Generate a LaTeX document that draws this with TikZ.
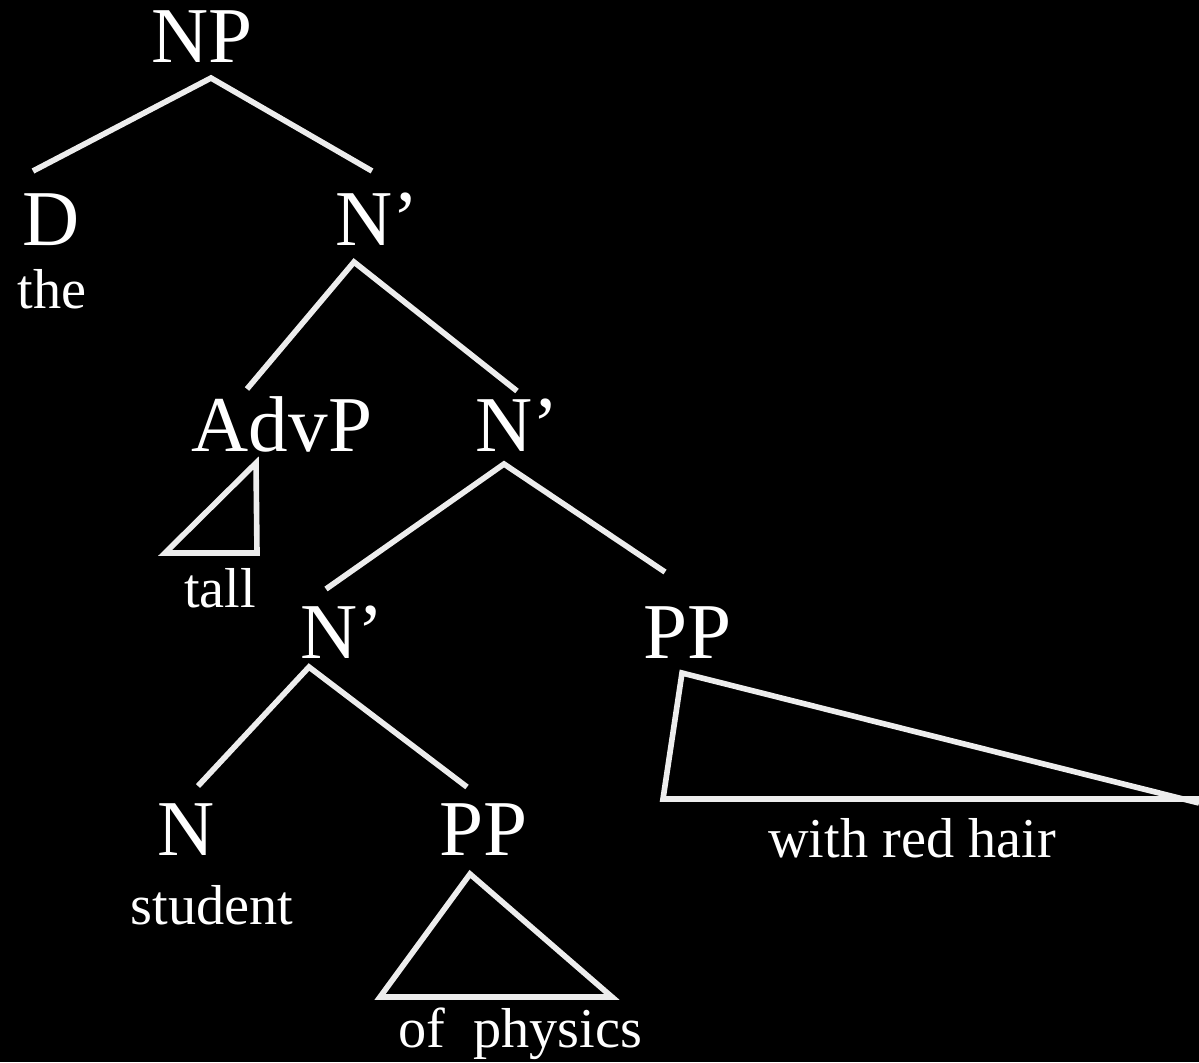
\documentclass[tikz,border=0pt]{standalone}
\usepackage{fontspec}
\setmainfont{Liberation Serif}

\begin{document}
\begin{tikzpicture}[x=0.01cm, y=-0.01cm,
          cat/.style={text=white, inner sep=0pt, anchor=base,
            font=\fontsize{22.5}{24}\selectfont},
          word/.style={text=white, inner sep=0pt, anchor=base,
            font=\fontsize{16}{18}\selectfont},
          branch/.style={draw=white!93!black, line width=1.6pt, line join=miter},
        ]
          \fill[black] (0, 0) rectangle (1199, 1062);
          \useasboundingbox (0, 0) rectangle (1199, 1062);

          \node[cat]  (np)   at ( 202,   62) {NP};
          \node[cat]  (d)    at (  51,  245) {D};
          \node[word] (the)  at (  52,  308) {the};
          \node[cat]  (nb1)  at ( 377,  245) {N’};
          \node[cat]  (advp) at ( 282,  451) {AdvP};
          \node[word] (tall) at ( 220,  607) {tall};
          \node[cat]  (nb2)  at ( 517,  451) {N’};
          \node[cat]  (nb3)  at ( 342,  658) {N’};
          \node[cat]  (pp1)  at ( 688,  658) {PP};
          \node[word] (hair) at ( 912,  857) {with red hair};
          \node[cat]  (n)    at ( 186,  855) {N};
          \node[word] (stud) at ( 212,  924) {student};
          \node[cat]  (pp2)  at ( 484,  855) {PP};
          \node[word] (phys) at ( 520, 1047) {of\ \ physics};

          \coordinate (np-a)   at ( 211,  78);
          \coordinate (np-l)   at (  33, 171);
          \coordinate (np-r)   at ( 372, 171);
          \coordinate (nb1-a)  at ( 354, 262);
          \coordinate (nb1-l)  at ( 247, 389);
          \coordinate (nb1-r)  at ( 517, 391);
          \coordinate (nb2-a)  at ( 504, 464);
          \coordinate (nb2-l)  at ( 326, 589);
          \coordinate (nb2-r)  at ( 665, 572);
          \coordinate (nb3-a)  at ( 309, 667);
          \coordinate (nb3-l)  at ( 198, 786);
          \coordinate (nb3-r)  at ( 467, 787);
          \coordinate (advp-a) at ( 256, 463);
          \coordinate (advp-l) at ( 165, 553);
          \coordinate (advp-r) at ( 257, 553);
          \coordinate (pp1-a)  at ( 682, 673);
          \coordinate (pp1-l)  at ( 663, 799);
          \coordinate (pp1-r)  at (1199, 799);
          \coordinate (pp1-e)  at (1199, 803);
          \coordinate (pp2-a)  at ( 470, 874);
          \coordinate (pp2-l)  at ( 380, 997);
          \coordinate (pp2-r)  at ( 612, 997);

          \draw[branch] (np-l)  -- (np-a)  -- (np-r);
          \draw[branch] (nb1-l) -- (nb1-a) -- (nb1-r);
          \draw[branch] (nb2-l) -- (nb2-a) -- (nb2-r);
          \draw[branch] (nb3-l) -- (nb3-a) -- (nb3-r);
          \draw[branch] (advp-a) -- (advp-l) -- (advp-r) -- cycle;
          \draw[branch] (pp1-e) -- (pp1-a) -- (pp1-l) -- (pp1-r);
          \draw[branch] (pp2-a) -- (pp2-l) -- (pp2-r) -- cycle;
        \end{tikzpicture}
\end{document}
